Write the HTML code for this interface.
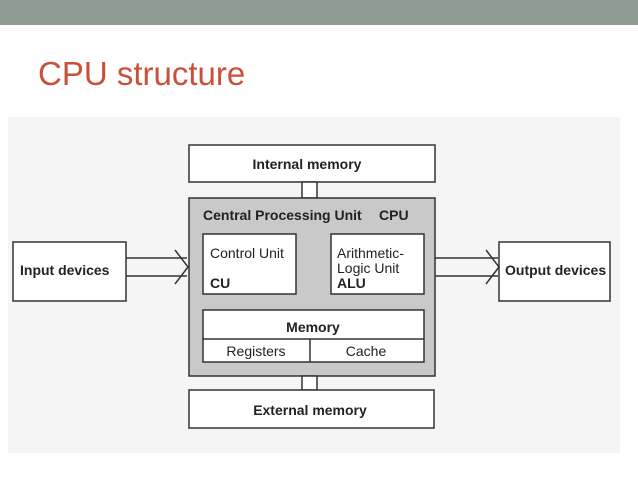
<!DOCTYPE html>
<html><head><meta charset="utf-8"><style>
body{margin:0;width:638px;height:478px;background:#fff;overflow:hidden;font-family:"Liberation Sans",Arial,sans-serif}
</style></head><body>
<svg width="638" height="478" xmlns="http://www.w3.org/2000/svg" font-family="Liberation Sans, Arial, sans-serif">
<rect x="0" y="0" width="638" height="25" fill="#8e9e94"/>
<text x="38" y="85" font-size="33" fill="#c9503a">CPU structure</text>
<rect x="8" y="117" width="612" height="336" fill="#f5f5f5"/>
<g stroke="#333" stroke-width="1.5" fill="#fff">
<rect x="189" y="145" width="246" height="37"/>
<rect x="302" y="182" width="15" height="16"/>
<rect x="189" y="198" width="246" height="178" fill="#c9c9c9"/>
<rect x="203" y="234" width="93" height="60"/>
<rect x="331" y="234" width="93" height="60"/>
<rect x="203" y="310" width="221" height="52"/>
<line x1="203" y1="339" x2="424" y2="339"/>
<line x1="310" y1="339" x2="310" y2="362"/>
<rect x="302" y="376" width="15" height="14"/>
<rect x="189" y="390" width="245" height="38"/>
<rect x="13" y="242" width="113" height="59"/>
<rect x="499" y="242" width="111" height="59"/>
<polyline fill="none" points="126,258 187,258"/>
<polyline fill="none" points="126,276 187,276"/>
<polyline fill="none" points="175,250 188,267 175,284"/>
<polyline fill="none" points="435,258 498,258"/>
<polyline fill="none" points="435,276 498,276"/>
<polyline fill="none" points="486,250 499,267 486,284"/>
</g>
<g fill="#222" font-size="14">
<text x="307" y="169" text-anchor="middle" font-weight="bold">Internal memory</text>
<text x="203" y="220" font-weight="bold">Central Processing Unit</text>
<text x="379" y="220" font-weight="bold">CPU</text>
<text x="210" y="258">Control Unit</text>
<text x="210" y="288" font-weight="bold">CU</text>
<text x="337" y="258">Arithmetic-</text>
<text x="337" y="273">Logic Unit</text>
<text x="337" y="288" font-weight="bold">ALU</text>
<text x="313" y="332" text-anchor="middle" font-weight="bold">Memory</text>
<text x="256" y="356" text-anchor="middle">Registers</text>
<text x="366" y="356" text-anchor="middle">Cache</text>
<text x="310" y="415" text-anchor="middle" font-weight="bold">External memory</text>
<text x="20" y="275" font-weight="bold">Input devices</text>
<text x="505" y="275" font-weight="bold">Output devices</text>
</g>
</svg>
</body></html>
